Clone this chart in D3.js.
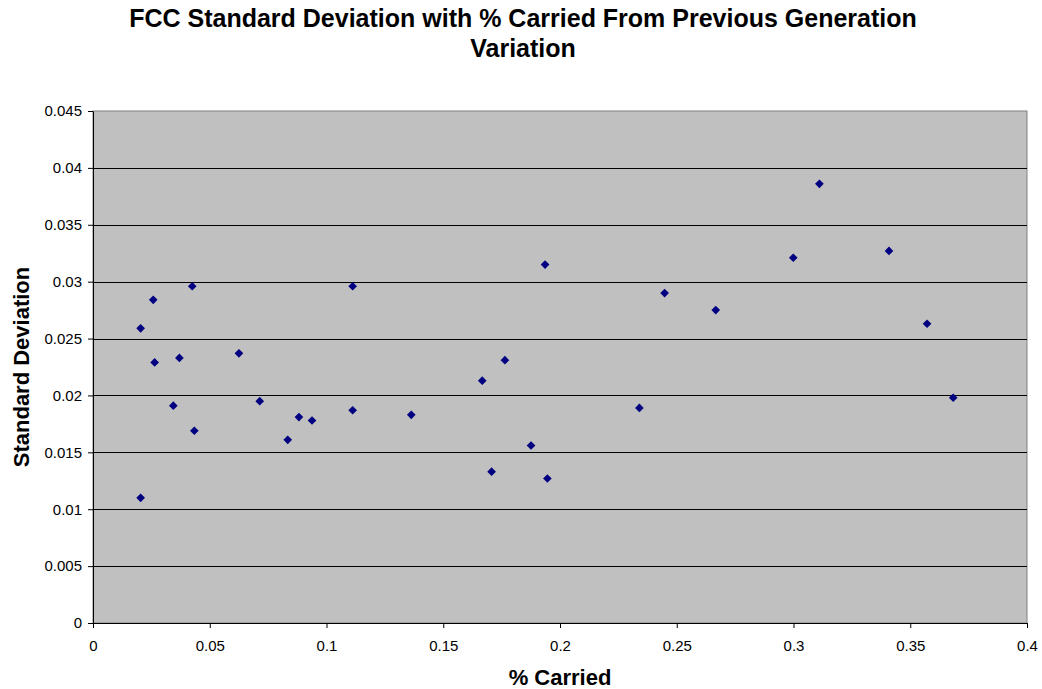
<!DOCTYPE html>
<html lang="en">
  <head>
    <meta charset="utf-8">
    <title>FCC Standard Deviation</title>
    <script src="https://d3js.org/d3.v7.min.js"></script>
    <style>
      body { margin: 0; background: #fff; }
      text { font-family: "Liberation Sans", Arial, sans-serif; }
    </style>
  </head>
  <body>
    <script>
    // % carried from previous generation (x) and standard deviation (y)
    const carried = [
      0.0204, 0.0258, 0.0425, 0.0264, 0.0370, 0.0625, 0.1112, 0.0344,
      0.0434, 0.0714, 0.0882, 0.0938, 0.0834, 0.1112, 0.0204,
      0.1936, 0.2448, 0.1764, 0.1667, 0.1363, 0.2340, 0.1876, 0.1707, 0.1946,
      0.3111, 0.2999, 0.3409, 0.2667, 0.3572, 0.3684
    ]
    const stdDev = [
      0.0259, 0.0284, 0.0296, 0.0229, 0.0233, 0.0237, 0.0296, 0.0191,
      0.0169, 0.0195, 0.0181, 0.0178, 0.0161, 0.0187, 0.0110,
      0.0315, 0.0290, 0.0231, 0.0213, 0.0183, 0.0189, 0.0156, 0.0133, 0.0127,
      0.0386, 0.0321, 0.0327, 0.0275, 0.0263, 0.0198
    ]
    const xTicks = [0, 0.05, 0.1, 0.15, 0.2, 0.25, 0.3, 0.35, 0.4]
    const yTicks = [0, 0.005, 0.01, 0.015, 0.02, 0.025, 0.03, 0.035, 0.04, 0.045]

    const width = 1042, height = 689
    const plot = { left: 93, right: 1027, top: 111, bottom: 623 }

    const svg = d3.select('body').append('svg')
        .attr('width', width)
        .attr('height', height)

    const scaleX = d3.scaleLinear().domain([0, 0.4]).range([plot.left, plot.right])
    const scaleY = d3.scaleLinear().domain([0, 0.045]).range([plot.bottom, plot.top])

    // grey plot background
    svg.append('rect')
        .attr('x', plot.left).attr('y', plot.top)
        .attr('width', plot.right - plot.left)
        .attr('height', plot.bottom - plot.top)
        .attr('fill', '#c0c0c0')
        .attr('stroke', '#808080')
        .attr('stroke-width', 1)

    // horizontal gridlines
    svg.append('g').selectAll('line')
        .data(yTicks.filter(d => d > 0 && d < 0.045))
        .join('line')
        .attr('x1', plot.left).attr('x2', plot.right)
        .attr('y1', d => Math.round(scaleY(d)) + 0.5)
        .attr('y2', d => Math.round(scaleY(d)) + 0.5)
        .attr('stroke', '#000')
        .attr('stroke-width', 1)

    const xAxis = d3.axisBottom(scaleX)
        .tickValues(xTicks)
        .tickFormat(d => d3.format('')(+d.toFixed(2)))
        .tickSizeInner(5).tickSizeOuter(0).tickPadding(12)
    const yAxis = d3.axisLeft(scaleY)
        .tickValues(yTicks)
        .tickFormat(d => d3.format('')(+d.toFixed(3)))
        .tickSizeInner(5).tickSizeOuter(0).tickPadding(6)

    const gx = svg.append('g')
        .attr('transform', `translate(0,${plot.bottom})`)
        .call(xAxis)
    const gy = svg.append('g')
        .attr('transform', `translate(${plot.left},0)`)
        .call(yAxis)

    for (const g of [gx, gy]) {
      g.selectAll('path, line').attr('stroke', '#000')
      g.selectAll('text')
          .attr('fill', '#000')
          .style('font-size', '15px')
          .style('font-family', '"Liberation Sans", Arial, sans-serif')
    }

    // diamond markers
    const diamond = d3.symbol().type(d3.symbolDiamond2).size(48)
    svg.append('g').selectAll('path')
        .data(carried.map((c, i) => ({ x: c, y: stdDev[i] })))
        .join('path')
        .attr('d', diamond)
        .attr('transform', d => `translate(${scaleX(d.x)},${scaleY(d.y)})`)
        .attr('fill', '#000080')

    // titles
    const title = svg.append('text')
        .attr('text-anchor', 'middle')
        .style('font-size', '25px')
        .style('font-weight', 'bold')
    title.append('tspan').attr('x', 523).attr('y', 27)
        .text('FCC Standard Deviation with % Carried From Previous Generation')
    title.append('tspan').attr('x', 523).attr('y', 57)
        .text('Variation')

    svg.append('text')
        .attr('x', 560).attr('y', 685)
        .attr('text-anchor', 'middle')
        .style('font-size', '22px')
        .style('font-weight', 'bold')
        .text('% Carried')

    svg.append('text')
        .attr('transform', 'translate(29,367) rotate(-90)')
        .attr('text-anchor', 'middle')
        .style('font-size', '22px')
        .style('font-weight', 'bold')
        .text('Standard Deviation')
    </script>
  </body>
</html>
